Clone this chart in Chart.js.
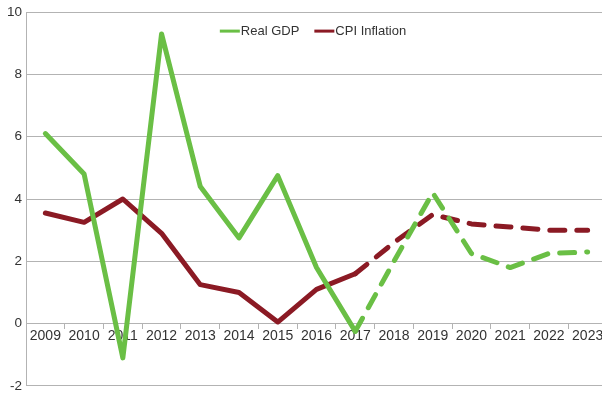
<!DOCTYPE html>
<html>
<head>
<meta charset="utf-8">
<script src="https://cdn.jsdelivr.net/npm/chart.js@4.4.0/dist/chart.umd.min.js"></script>
<style>
  html, body { margin: 0; padding: 0; background: #fff; overflow: hidden; }
  #wrap { width: 607px; height: 398px; }
</style>
</head>
<body>
<div id="wrap"><canvas id="linechart"></canvas></div>
<script>
const years = ['2009', '2010', '2011', '2012', '2013', '2014', '2015', '2016',
               '2017', '2018', '2019', '2020', '2021', '2022', '2023'];
const realGdp = [6.1, 4.8, -1.1, 9.3, 4.4, 2.75, 4.75, 1.8, -0.25, 2.0, 4.2, 2.25, 1.8, 2.25, 2.3];
const cpiInflation = [3.55, 3.25, 4.0, 2.9, 1.25, 1.0, 0.05, 1.1, 1.6, 2.6, 3.5, 3.2, 3.1, 3.0, 3.0];
const yTicks = [-2, 0, 2, 4, 6, 8, 10];

// forecast years (after 2017) are drawn dashed
const lastActual = 8;
const dashed = ctx => ctx.p0DataIndex >= lastActual ? [15, 12] : undefined;

const gridColor = '#b3b3b3';
const textColor = '#333333';
const fontFamily = '"Liberation Sans", Arial, sans-serif';
Chart.defaults.font.family = fontFamily;
Chart.defaults.font.size = 13;
Chart.defaults.color = textColor;

// legend sits inside the plot, near the top
const insideLegend = {
  id: 'insideLegend',
  afterDraw(chart) {
    const c = chart.ctx;
    const area = chart.chartArea;
    const y = area.top + 19;
    c.save();
    c.font = '13px ' + fontFamily;
    c.textBaseline = 'middle';
    const items = chart.data.datasets.map(ds => ({
      text: ds.label, color: ds.borderColor, w: 20 + 1 + c.measureText(ds.label).width
    }));
    const gap = 15;
    const total = items.reduce((s, it) => s + it.w, 0) + gap * (items.length - 1);
    let x = 313 - total / 2;
    items.forEach(it => {
      c.fillStyle = it.color;
      c.fillRect(x, y - 1.5, 20, 3);
      c.fillStyle = textColor;
      c.fillText(it.text, x + 21, y);
      x += it.w + gap;
    });
    c.restore();
  }
};

const ctx = document.getElementById('linechart').getContext('2d');
const linechart = new Chart(ctx, {
  type: 'line',
  data: {
    labels: years,
    datasets: [{
      label: 'Real GDP',
      data: realGdp,
      borderColor: '#6abf45',
      backgroundColor: '#6abf45',
      borderWidth: 5,
      borderCapStyle: 'round',
      borderJoinStyle: 'round',
      pointRadius: 0,
      segment: { borderDash: dashed }
    }, {
      label: 'CPI Inflation',
      data: cpiInflation,
      borderColor: '#8b1a24',
      backgroundColor: '#8b1a24',
      borderWidth: 5,
      borderCapStyle: 'round',
      borderJoinStyle: 'round',
      pointRadius: 0,
      segment: { borderDash: dashed }
    }]
  },
  options: {
    responsive: true,
    maintainAspectRatio: false,
    animation: false,
    layout: { padding: { top: 11, bottom: 9, left: 0, right: 0 } },
    plugins: {
      tooltip: { enabled: false },
      legend: { display: false }
    },
    scales: {
      x: {
        position: { y: 0 },
        offset: true,
        grid: {
          offset: true,
          drawOnChartArea: false,
          drawTicks: true,
          tickLength: 5,
          color: gridColor
        },
        border: { display: true, color: gridColor },
        ticks: { padding: -1, maxRotation: 0, autoSkip: false, color: textColor, font: { size: 14 } }
      },
      y: {
        min: -2,
        max: 10,
        afterFit: s => { s.width = 26; },
        afterBuildTicks: s => { s.ticks = yTicks.map(v => ({ value: v })); },
        grid: { color: gridColor, drawTicks: false },
        border: { display: true, color: gridColor },
        ticks: { padding: 4, color: textColor, font: { size: 13.5 } }
      }
    }
  },
  plugins: [insideLegend]
});
</script>
</body>
</html>
